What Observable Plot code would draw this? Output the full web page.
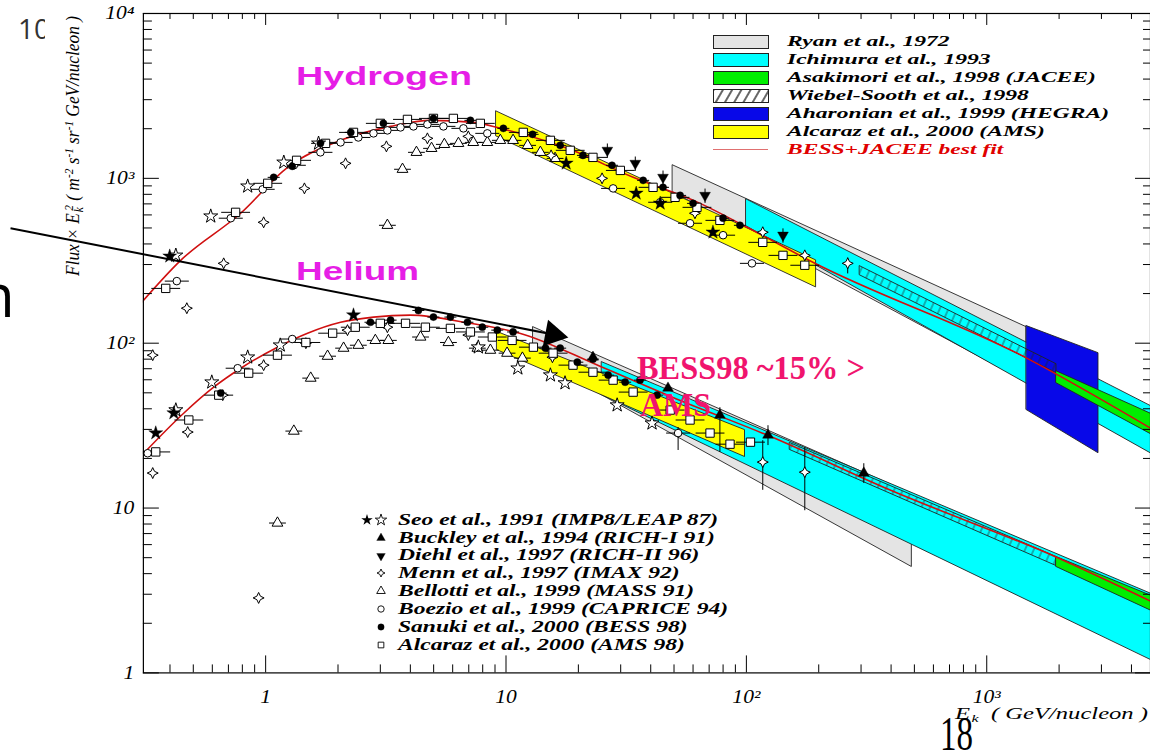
<!DOCTYPE html>
<html><head><meta charset="utf-8">
<script src="https://cdn.jsdelivr.net/npm/d3@7"></script>
<script src="https://cdn.jsdelivr.net/npm/@observablehq/plot@0.6"></script>
<style>
html,body{margin:0;padding:0;background:#fff;overflow:hidden;width:1150px;height:756px;}
#wrap{position:relative;width:1150px;height:756px;overflow:hidden;background:#fff;}
#chart{position:absolute;left:0;top:0;}
.sp{position:relative;top:-0.45em;font-size:0.65em;}
.sb{position:relative;top:0.3em;font-size:0.65em;margin-left:1px;}
</style></head><body>
<svg width="0" height="0" style="position:absolute">
 <defs>
  <pattern id="hatch" patternUnits="userSpaceOnUse" width="8" height="8" patternTransform="rotate(24)">
   <line x1="1" y1="0" x2="1" y2="8" stroke="#222" stroke-width="0.7"/>
  </pattern>
  <pattern id="hatchLeg" patternUnits="userSpaceOnUse" width="8" height="8" patternTransform="rotate(30)">
   <rect width="8" height="8" fill="#fff"/>
   <line x1="1" y1="0" x2="1" y2="8" stroke="#000" stroke-width="1.2"/>
  </pattern>
 </defs>
</svg>
<div id="wrap"><div id="chart"></div></div>
<script>
// ---------------- DATA (E in GeV/nucleon, Flux x E^2) ----------------
// Best-fit curves (BESS+JACEE)
const fitH_E  = [0.303,0.443,0.787,1.234,2.05,3.31,4.85,7.31,9.47,17.98,33.8,64.2,100.6,189,1466,5000];
const fitH_F  = [175,318,614,1166,1700,2066,2247,2184,2010,1520,1014,705,505,310,81.2,29.5];
const fitHe_E = [0.311,0.456,0.608,0.788,1.12,1.494,2.05,2.81,4.0,7.1,11.4,24.6,52.8,122,394,1940,5000];
const fitHe_F = [21.5,37.6,54.1,70.5,94.6,115,134,144,148,132,115,72.5,45.1,27.7,12.9,5.05,2.65];

// Bands: [E, upper, lower] at both ends
const ryanH      = [[49.5,1199,823],[1466,125,58]];
const ryanHe     = [[13,125,82.2],[488,12.2,4.39]];
const ichimuraH  = [[100,746,512],[10000,24.1,11.8]];
const ichimuraHe = [[25.1,76.7,48.4],[10000,1.93,0.716]];
const hegraH     = [[1466,127,39.3],[2917,87,21.5]];
const wiebelH    = [[297,293,258],[1950,74.6,65.8]];
const wiebelHe   = [[152,24.8,22.5],[1950,5.05,4.45]];
const jaceeH     = [[1950,67.6,57.2],[10000,23.1,15.8]];
const jaceeHe    = [[1950,5.05,4.39],[10000,1.90,1.46]];
const amsBandH   = [[9.12,2547,1797],[195,318,218]];
const amsBandHe  = [[9.2,117,90.7],[98.7,29.7,20.4]];

// Experiments: [E, F]
const seoOpenH   = [[0.423,341],[0.591,589],[0.842,895],[1.19,1250],[1.66,1630]];
const seoFillH   = [[0.399,337],[17.8,1233],[34.8,811],[43.8,705],[72.6,471]];
const seoOpenHe  = [[0.423,39.3],[0.597,58],[0.842,82.2],[1.15,97.2],[7.67,94.6],[11.2,70.5],[15.3,64],[17.6,57.3],[29.0,42.1],[40.5,32.7]];
const seoFillHe  = [[0.349,28.5],[0.415,37.7],[2.32,148]];
const buckleyHe  = [[23,82.2],[47.2,53.4],[77.6,36.6],[123,27.7],[308,16.3]];
const buckleyHeErr = [[77.6,21.9,40.9],[123,24.1,31.8],[308,14.2,18.7]];
const diehlH     = [[26.4,1479],[34.5,1233],[45,1014],[67.3,788],[142,452]];
const diehlRelErr = 0.1;
const mennH      = [[0.47,163],[0.669,305],[0.981,541],[1.45,869],[2.15,1233],[3.18,1563],[4.71,1748],[6.97,1797],[15.4,1378],[25.1,1000],[61.1,614],[117,471],[175,341],[264,305]];
const mennHErr   = [[264,265,331]];
const mennHe     = [[0.339,84.6],[0.339,16.3],[0.474,28.9],[0.663,48.4],[0.981,73.6],[1.47,100],[2.19,120],[3.21,125],[6.97,112],[15.6,82.2],[117,19.0],[175,16.5],[0.935,2.85]];
const mennHeErr  = [[117,12.9,25.8],[175,9.7,23.4]];
const bellottiH  = [[3.21,519],[3.71,1135],[4.24,1438],[4.90,1520],[5.54,1607],[6.34,1630],[7.31,1652],[8.36,1652],[9.47,1700],[10.7,1700],[12.3,1585],[13.9,1438],[16.0,1321]];
const bellottiHe = [[1.12,8.11],[1.31,29.3],[1.54,61.4],[1.81,83.4],[2.11,93.3],[2.43,97.2],[2.86,104],[3.24,104],[4.41,109],[5.76,101],[7.6,93.3],[8.61,90.7],[10.1,87],[11.7,81.2]];
const boezioH    = [[0.427,238],[0.716,573],[0.972,858],[1.31,1200],[1.69,1438],[2.05,1652],[2.43,1770],[2.81,1874],[3.21,1954],[3.64,2037],[4.12,2066],[4.71,2125],[5.49,2066],[6.65,2010],[8.36,1874],[27.9,869],[43.8,716],[58.3,534],[80,452],[105.5,305]];
const boezioHe   = [[0.323,21.5],[0.765,70.5],[1.29,106],[52,28.5]];
const boezioHeErr = [[52,22.5,31]];
const sanukiH    = [[1.08,1014],[1.29,1183],[1.69,1630],[2.26,1900],[3.09,2155],[4.99,2310],[7.11,2248],[9.75,2010],[12.9,1849],[16.8,1585],[20.9,1378],[27.6,1200],[37.2,972],[45,882],[53,788],[60,705],[80,573],[94,519]];
const sanukiHe   = [[0.65,49.8],[2.73,134],[3.31,138],[4.32,158],[4.99,144],[5.87,144],[6.91,134],[7.97,125],[9.2,120],[10.7,117],[14.6,93.3],[16.8,93.3],[19.8,76.7],[23,80],[26.6,64],[31.3,58],[36.1,59.7],[42.5,48.4]];
const alcarazH   = [[0.384,215],[0.75,622],[1.02,933],[1.345,1286],[1.775,1630],[2.32,1900],[3.0,2155],[3.89,2278],[4.99,2310],[6.04,2310],[7.82,2155],[11.8,1900],[15.3,1700],[18.5,1479],[23,1340],[29.9,1117],[40.9,882],[50.5,767],[62.3,667],[77.6,556],[117,409],[142,341],[175,297]];
const alcarazHe  = [[0.349,21.9],[0.479,34.2],[0.638,48.4],[0.85,65.8],[1.12,84.6],[1.47,101],[1.90,115],[2.36,125],[3.0,132],[3.82,132],[4.62,125],[5.87,123],[7.11,117],[8.77,109],[10.6,104],[13.0,94.6],[15.7,87],[19.0,73.6],[23.0,66.7],[27.9,59.7],[33.8,50.5],[48.2,39.3],[58.3,34.2],[70.6,28.5],[85.5,24.4],[104,25.1]];

// Annotation arrow (slide overlay), in data coordinates
const arrowFrom = [0.0868, 498];
const arrowTo   = [15.7, 113];

// Tick values / labels
const majorX = [1, 10, 100, 1000];
const majorY = [1, 10, 100, 1000, 10000];
const tickText = {1:"1", 10:"10", 100:"10²", 1000:"10³", 10000:"10⁴"};

const bandLegend = ["Ryan et al., 1972","Ichimura et al., 1993","Asakimori et al., 1998 (JACEE)","Wiebel-Sooth  et al., 1998","Aharonian et al., 1999 (HEGRA)","Alcaraz et al., 2000 (AMS)","BESS+JACEE best fit"];
const pointLegend = ["Seo et al., 1991 (IMP8/LEAP 87)","Buckley et al., 1994 (RICH-I 91)","Diehl et al., 1997 (RICH-II 96)","Menn et al., 1997 (IMAX 92)","Bellotti et al., 1999 (MASS 91)","Boezio et al., 1999 (CAPRICE 94)","Sanuki et al., 2000 (BESS 98)","Alcaraz et al., 2000 (AMS 98)"];

// ---------------- CHART ----------------
const minorX = [], minorY = [];
for (const d of [0.1,1,10,100,1000]) for (let m=2;m<=9;m++){ const v=m*d; if (v>0.31 && v<4800) minorX.push(v); }
for (const d of [1,10,100,1000]) for (let m=2;m<=9;m++) minorY.push(m*d);

const star4 = {draw(ctx, size){ const r=Math.sqrt(size/Math.PI)*1.25, k=r*0.32;
  ctx.moveTo(0,-r); ctx.lineTo(k,-k); ctx.lineTo(r,0); ctx.lineTo(k,k); ctx.lineTo(0,r); ctx.lineTo(-k,k); ctx.lineTo(-r,0); ctx.lineTo(-k,-k); ctx.closePath(); }};

const C = {gray:"#e4e4e4", cyan:"#00ffff", green:"#00ee00", blue:"#0808e8", yellow:"#ffff00", fit:"#d01010"};

const band = (b, fill) => Plot.areaY(b, {x:d=>d[0], y1:d=>d[2], y2:d=>d[1], fill, stroke:"#222", strokeWidth:0.9, clip:true});
const hbar = (a, w) => Plot.link(a, {x1:d=>d[0]/10**w, x2:d=>d[0]*10**w, y1:d=>d[1], y2:d=>d[1], stroke:"#000", strokeWidth:1, clip:true});
const vbar = (a) => Plot.link(a, {x1:d=>d[0], x2:d=>d[0], y1:d=>d[1], y2:d=>d[2], stroke:"#000", strokeWidth:1, clip:true});
const dots = (a, symbol, filled, r, extra={}) => Plot.dot(a, {x:d=>d[0], y:d=>d[1], symbol, r, fill: filled?"#000":"#fff", stroke:"#000", strokeWidth: filled?0.4:1, clip:true, ...extra});
const zip = (E, F) => E.map((e,i)=>[e, F[i]]);

const axisFont = {fontFamily:"'Liberation Serif',serif", fontStyle:"italic", fontSize:18};

const chart = Plot.plot({
  width: 1151, height: 756,
  marginLeft: 143, marginRight: 0, marginTop: 13, marginBottom: 83,
  x: {type:"log", domain:[0.31, 4800]},
  y: {type:"log", domain:[1, 10000]},
  style: {background:"transparent", color:"#000", fontFamily:"'Liberation Serif',serif"},
  marks: [
    band(ryanH, C.gray), band(ryanHe, C.gray),
    band(ichimuraH, C.cyan), band(ichimuraHe, C.cyan),
    band(hegraH, C.blue),
    band(wiebelH, "url(#hatch)"), band(wiebelHe, "url(#hatch)"),
    band(jaceeH, C.green), band(jaceeHe, C.green),
    band(amsBandH, C.yellow), band(amsBandHe, C.yellow),
    Plot.line(zip(fitH_E, fitH_F), {x:d=>d[0], y:d=>d[1], stroke:C.fit, strokeWidth:1.6, curve:"monotone-x", clip:true}),
    Plot.line(zip(fitHe_E, fitHe_F), {x:d=>d[0], y:d=>d[1], stroke:C.fit, strokeWidth:1.6, curve:"monotone-x", clip:true}),
    // error bars
    hbar(alcarazH, 0.06), hbar(alcarazHe, 0.06),
    hbar(boezioH, 0.05), hbar(boezioHe, 0.05),
    hbar(sanukiH, 0.025), hbar(sanukiHe, 0.025),
    hbar(bellottiH, 0.035), hbar(bellottiHe, 0.035),
    hbar(mennH, 0.02), hbar(mennHe, 0.02),
    vbar(diehlH.map(([e,f])=>[e, f*(1-diehlRelErr), f*(1+diehlRelErr)])),
    vbar(buckleyHeErr), vbar(mennHeErr), vbar(mennHErr), vbar(boezioHeErr),
    // markers
    dots(bellottiH, "triangle", false, 4), dots(bellottiHe, "triangle", false, 4),
    dots(boezioH, "circle", false, 3.8), dots(boezioHe, "circle", false, 3.8),
    dots(mennH, star4, false, 4.4), dots(mennHe, star4, false, 4.4),
    dots(alcarazH, "square", false, 4.7), dots(alcarazHe, "square", false, 4.7),
    dots(seoOpenH, "star", false, 4.4), dots(seoOpenHe, "star", false, 4.4),
    dots(seoFillH, "star", true, 4.4), dots(seoFillHe, "star", true, 4.4),
    dots(sanukiH, "circle", true, 3.6), dots(sanukiHe, "circle", true, 3.6),
    dots(buckleyHe, "triangle", true, 4),
    dots(diehlH, "triangle", true, 4, {rotate:180}),
    // annotation arrow
    Plot.link([[arrowFrom, arrowTo]], {x1:d=>d[0][0], y1:d=>d[0][1], x2:d=>d[1][0], y2:d=>d[1][1], stroke:"#000", strokeWidth:2}),
    Plot.dot([arrowTo], {x:d=>d[0], y:d=>d[1], symbol:"triangle", r:10, rotate:101, fill:"#000", stroke:"none"}),
    // frame & axes (ROOT style: ticks inside)
    Plot.frame({stroke:"#000", strokeWidth:1.2}),
    Plot.axisX({anchor:"bottom", ticks:majorX, tickSize:-17, tickFormat:()=>"", label:null}),
    Plot.axisX({anchor:"bottom", ticks:minorX, tickSize:-8, tickFormat:()=>"", label:null}),
    Plot.axisX({anchor:"top", ticks:majorX, tickSize:-11, tickFormat:()=>"", label:null}),
    Plot.axisX({anchor:"top", ticks:minorX, tickSize:-5, tickFormat:()=>"", label:null}),
    Plot.axisY({anchor:"left", ticks:majorY, tickSize:-16, tickFormat:()=>"", label:null}),
    Plot.axisY({anchor:"left", ticks:minorY, tickSize:-9, tickFormat:()=>"", label:null}),
    Plot.axisY({anchor:"right", ticks:majorY, tickSize:-16, tickFormat:()=>"", label:null}),
    Plot.axisY({anchor:"right", ticks:minorY, tickSize:-8, tickFormat:()=>"", label:null}),
    Plot.axisX({anchor:"bottom", ticks:majorX, tickSize:0, tickPadding:17, tickFormat:v=>tickText[v], label:null, ...axisFont}),
    Plot.axisY({anchor:"left", ticks:majorY, tickSize:0, tickPadding:9, tickFormat:v=>tickText[v], label:null, ...axisFont})
  ]
});
document.getElementById("chart").appendChild(chart);

// stretch tick labels horizontally (the original image is stretched)
chart.querySelectorAll('g[aria-label$="tick label"] text').forEach(t => {
  const x=+t.getAttribute("x")||0, y=+t.getAttribute("y")||0, tr=t.getAttribute("transform")||"";
  t.setAttribute("transform", `${tr} translate(${x},${y}) scale(1.2,1) translate(${-x},${-y})`);
});

// ---------------- TEXT OVERLAYS ----------------
const wrap = document.getElementById("wrap");
const SERIF = "'Liberation Serif','Times New Roman',serif";
const SANS = "'Liberation Sans',Arial,sans-serif";
const OPEN = "'Open Sans','Liberation Sans',sans-serif";
function label(html, left, top, font, color="#000", lh=1) {
  const d = document.createElement("div");
  d.innerHTML = html;
  d.style.cssText = `position:absolute;white-space:nowrap;font:${font};line-height:${lh};left:${left}px;top:${top}px;color:${color};transform-origin:0 0;`;
  wrap.appendChild(d);
  return d;
}
const scaleTo = (d, target) => { const w = d.getBoundingClientRect().width; d.style.transform = `scaleX(${target/w})`; };

// slide fragments
const clipBox = document.createElement("div");
clipBox.style.cssText = "position:absolute;left:0;top:0;width:45px;height:60px;overflow:hidden;";
wrap.appendChild(clipBox);
const ten = document.createElement("div");
ten.textContent = "10";
ten.style.cssText = `position:absolute;left:18px;top:14px;font:28px ${OPEN};line-height:1;color:#333;`;
clipBox.appendChild(ten);
const clipN = document.createElement("div");
clipN.style.cssText = "position:absolute;left:0;top:250px;width:20px;height:90px;overflow:hidden;";
wrap.appendChild(clipN);
const nn = document.createElement("div");
nn.textContent = "n";
nn.style.cssText = `position:absolute;left:-22px;top:14px;font:60px ${OPEN};line-height:1;color:#000;`;
clipN.appendChild(nn);
const pg = label("18", 940, 750 - 0.7125*48, `48px ${SERIF}`, "#000", 0.75);
scaleTo(pg, 33);

// annotations
scaleTo(label("Hydrogen", 296, 85 - 0.8465*25, `bold 25px ${SANS}`, "#e61ee6"), 176);
scaleTo(label("Helium", 296, 280 - 0.8465*25, `bold 25px ${SANS}`, "#e61ee6"), 123);
scaleTo(label("BESS98 ~15% &gt;", 637, 380 - 0.8375*33, `bold 33px ${SERIF}`, "#f0146e"), 228);
scaleTo(label("AMS", 640, 417 - 0.8375*33, `bold 33px ${SERIF}`, "#f0146e"), 71);

// axis titles
const xt = label('E<span class="sb">k</span>&nbsp; ( GeV/nucleon )', 955, 719 - 0.8375*16, `italic 16px ${SERIF}`);
scaleTo(xt, 193);
const yt = label('Flux × E<span class="sb">k</span><span class="sp" style="margin-left:-0.3em">2</span> ( m<span class="sp">-2</span> s<span class="sp">-1</span> sr<span class="sp">-1</span> GeV/nucleon )', 0, 0, `italic 19px ${SERIF}`);
{
  const r = yt.getBoundingClientRect(), w = r.width, h = r.height, k = 260 / w;
  yt.style.transform = `translate(72px,146px) rotate(-90deg) scaleX(${k}) translate(${-w/2}px,${-h/2}px)`;
}

// top-right legend (bands)
const legRows = [41.5, 59.5, 77.5, 96, 113.5, 131.5, 149.5];
const legFills = [C.gray, C.cyan, C.green, "hatch", C.blue, C.yellow, "line"];
const legTexts = [];
bandLegend.forEach((txt, i) => {
  const cy = legRows[i], f = legFills[i];
  if (f === "line") {
    const l = document.createElement("div");
    l.style.cssText = `position:absolute;left:713px;top:${cy-0.75}px;width:55px;height:1.5px;background:#e07070;`;
    wrap.appendChild(l);
  } else if (f === "hatch") {
    const s = document.createElementNS("http://www.w3.org/2000/svg","svg");
    s.setAttribute("width", 56); s.setAttribute("height", 14);
    s.style.cssText = `position:absolute;left:713px;top:${cy-7}px;`;
    s.innerHTML = '<rect x="0.5" y="0.5" width="55" height="13" fill="url(#hatchLeg)" stroke="#222" stroke-width="1"/>';
    wrap.appendChild(s);
  } else {
    const b = document.createElement("div");
    b.style.cssText = `position:absolute;left:713px;top:${cy-7}px;width:56px;height:14px;box-sizing:border-box;border:1px solid #222;background:${f};`;
    wrap.appendChild(b);
  }
  legTexts.push(label(txt, 787, cy - 7.6, `italic bold 15px ${SERIF}`, i === 6 ? "#e00000" : "#000"));
});
{
  const k = 322 / legTexts[4].getBoundingClientRect().width;
  legTexts.forEach(d => d.style.transform = `scaleX(${k})`);
}

// bottom legend (markers)
const ptRows = [520, 538, 555.5, 573, 591, 609, 627, 645];
const ptSym = [null, ["triangle",true,0], ["triangle",true,180], [star4,false,0], ["triangle",false,0], ["circle",false,0], ["circle",true,0], ["square",false,0]];
const symPath = (type, r) => d3.symbol(typeof type === "string" ? {triangle:d3.symbolTriangle, circle:d3.symbolCircle, square:d3.symbolSquare, star:d3.symbolStar}[type] : type, Math.PI*r*r)();
const ptTexts = [];
pointLegend.forEach((txt, i) => {
  const cy = ptRows[i];
  const s = document.createElementNS("http://www.w3.org/2000/svg","svg");
  s.setAttribute("width", 40); s.setAttribute("height", 16);
  s.style.cssText = `position:absolute;left:358px;top:${cy-8}px;overflow:visible;`;
  if (i === 0) {
    s.innerHTML = `<path transform="translate(9,8)" d="${symPath("star",3.6)}" fill="#000"/><path transform="translate(23,8)" d="${symPath("star",3.6)}" fill="#fff" stroke="#000" stroke-width="0.9"/>`;
  } else {
    const [t, filled, rot] = ptSym[i];
    s.innerHTML = `<path transform="translate(23,8) rotate(${rot})" d="${symPath(t,3.2)}" fill="${filled?"#000":"#fff"}" stroke="#000" stroke-width="${filled?0.3:0.9}"/>`;
  }
  wrap.appendChild(s);
  ptTexts.push(label(txt, 398, cy - 8.1, `italic bold 16px ${SERIF}`));
});
{
  const k = 320 / ptTexts[0].getBoundingClientRect().width;
  ptTexts.forEach(d => d.style.transform = `scaleX(${k})`);
}
</script>
</body></html>
